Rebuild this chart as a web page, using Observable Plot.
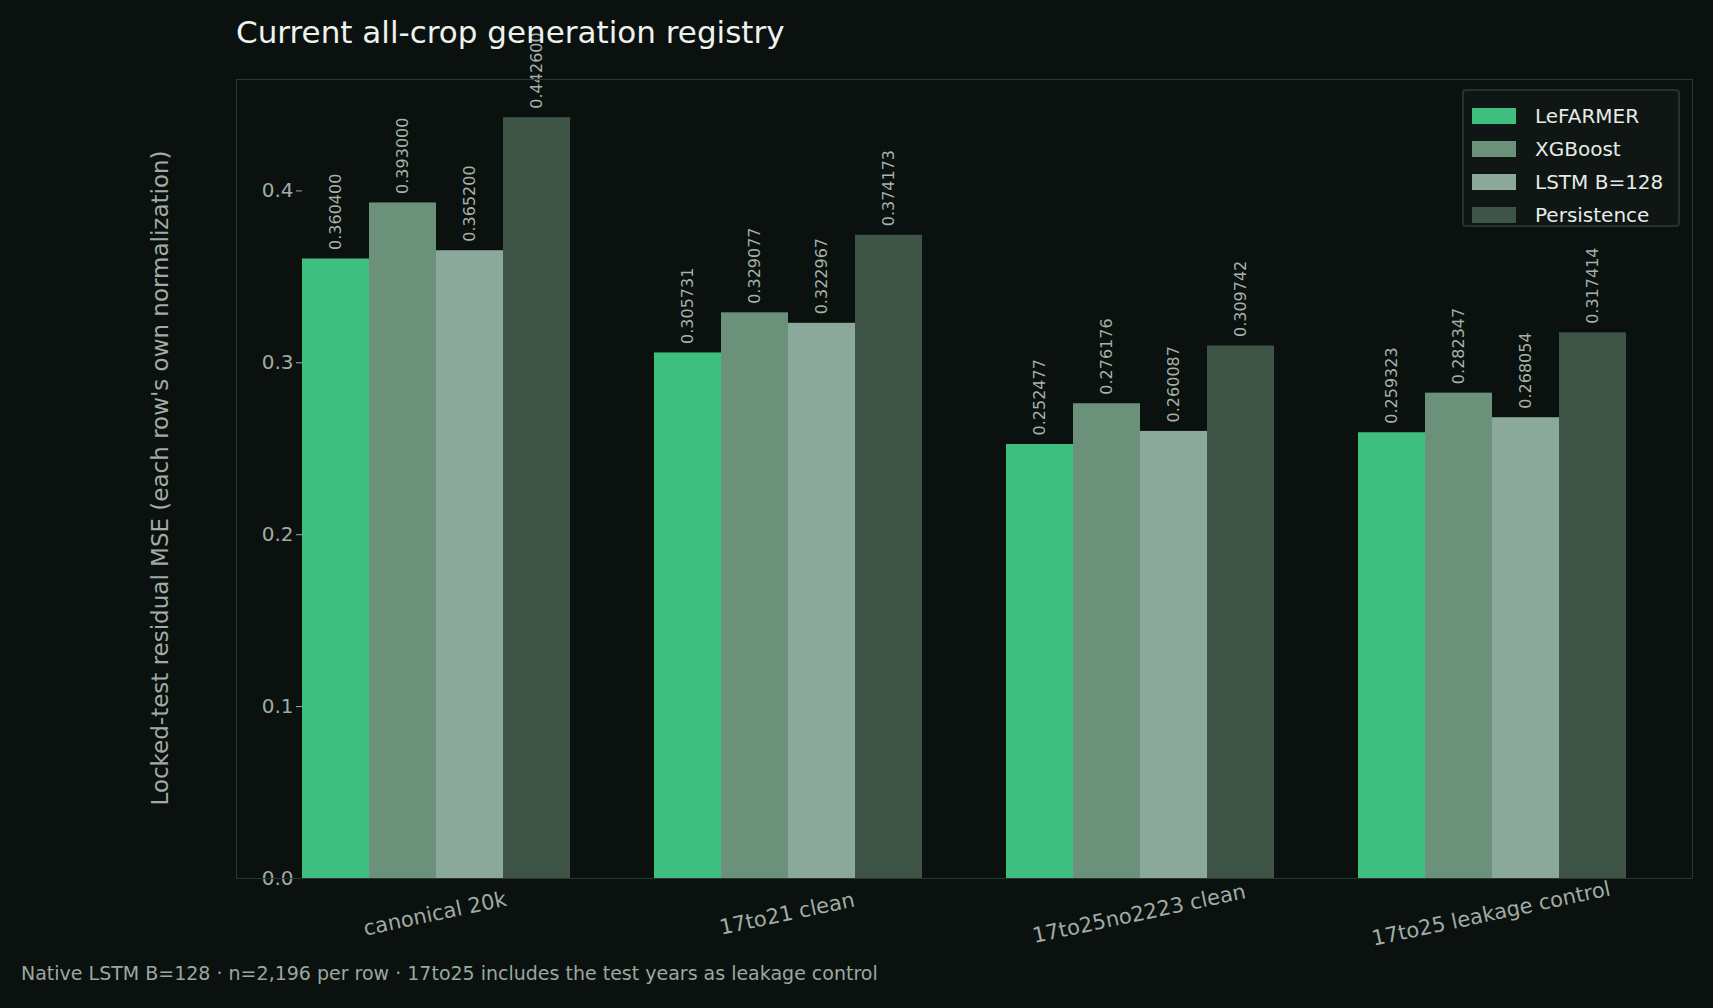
<!DOCTYPE html>
<html><head><meta charset="utf-8">
<script src="https://cdn.jsdelivr.net/npm/d3@7"></script>
<script src="https://cdn.jsdelivr.net/npm/@observablehq/plot@0.6"></script>
<style>
body{margin:0;background:#0b110e;font-family:"DejaVu Sans",sans-serif;}
#wrap{position:relative;width:1713px;height:1008px;overflow:hidden}
#title{position:absolute;left:236px;top:14px;color:#eef2ef;font-size:31px}
#cap{position:absolute;left:21px;top:962px;color:#9aa8a0;font-size:19px}
#frame{position:absolute;left:236px;top:79px;width:1455px;height:798px;border:1.5px solid #2c3631;pointer-events:none}
#legend{position:absolute;left:1462px;top:89px;width:218px;height:138px;background:#0f1613;border:2px solid #28322d;border-radius:4px;box-sizing:border-box;padding:8px 0 0 8px}
.it{display:flex;align-items:center;height:33px;color:#e6ebe7;font-size:20px}
.sw{width:44px;height:16px;margin-right:19px}
</style></head><body>
<div id="wrap"><div id="title">Current all-crop generation registry</div><div id="chart"></div><div id="frame"></div><div id="legend"></div><div id="cap">Native LSTM B=128 · n=2,196 per row · 17to25 includes the test years as leakage control</div></div>
<script>
const categories = ["canonical 20k","17to21 clean","17to25no2223 clean","17to25 leakage control"];
const series = ["LeFARMER","XGBoost","LSTM B=128","Persistence"];
const colors = ["#3fbf7f","#6b917b","#8aa99a","#3d5447"];
const values = {
  "LeFARMER":[0.360400,0.305731,0.252477,0.259323],
  "XGBoost":[0.393000,0.329077,0.276176,0.282347],
  "LSTM B=128":[0.365200,0.322967,0.260087,0.268054],
  "Persistence":[0.442600,0.374173,0.309742,0.317414]
};
const data = [];
categories.forEach((c,i)=>series.forEach(s=>data.push({cat:c,series:s,value:values[s][i]})));
const chart = Plot.plot({
  width:1713,height:1008,
  marginTop:79,marginBottom:130,marginLeft:236,marginRight:21,
  style:{background:"transparent",color:"#a0aca5",fontFamily:"DejaVu Sans",fontSize:"20px"},
  fx:{domain:categories,paddingInner:0.24,paddingOuter:0.188,axis:null},
  x:{domain:series,padding:0,axis:null},
  y:{domain:[0,0.4648],ticks:[0,0.1,0.2,0.3,0.4],tickFormat:".1f",label:null,tickSize:6},
  color:{domain:series,range:colors},
  marks:[
    Plot.axisY({ticks:[0,0.1,0.2,0.3,0.4],tickFormat:".1f",fontSize:20,tickSize:6,stroke:"#a0aca5",label:null}),
    Plot.barY(data,{fx:"cat",x:"series",y:"value",fill:"series"}),
    Plot.text(data,{fx:"cat",x:"series",y:"value",text:d=>d3.format(".6f")(d.value),rotate:-90,textAnchor:"start",dy:-9,fill:"#a3b3aa",fontSize:16}),
    Plot.text(categories,{fx:d=>d,text:d=>d,frameAnchor:"bottom",dy:42,rotate:-12,fill:"#a0aca5",fontSize:21})
  ]
});
document.getElementById("chart").appendChild(chart);
const svg=d3.select(chart);
svg.append("text").attr("transform","translate(161,478) rotate(-90)").attr("text-anchor","middle").attr("fill","#a0aca5").attr("font-size",23).attr("dominant-baseline","middle").text("Locked-test residual MSE (each row's own normalization)");
const lg=document.getElementById("legend");
series.forEach((s,i)=>{lg.insertAdjacentHTML("beforeend",`<div class="it"><div class="sw" style="background:${colors[i]}"></div>${s}</div>`)});
</script></body></html>
